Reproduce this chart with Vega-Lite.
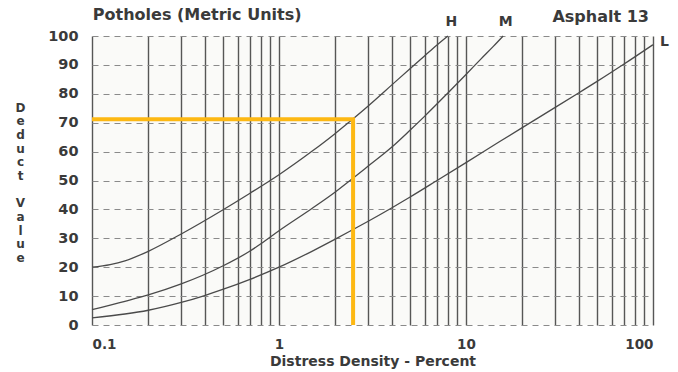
{
  "$schema": "https://vega.github.io/schema/vega-lite/v6.json",
  "width": 561,
  "height": 289,
  "autosize": {"type": "none"},
  "padding": {"left": 92, "top": 36, "right": 25, "bottom": 47},
  "background": "white",
  "config": {
    "font": "DejaVu Sans",
    "view": {"stroke": null, "fill": "#fafaf8"}
  },
  "datasets": {
    "curves": [
      {"series": "H", "x": 0.1, "y": 20},
      {"series": "H", "x": 0.125, "y": 20.9},
      {"series": "H", "x": 0.15, "y": 22.2},
      {"series": "H", "x": 0.2, "y": 25.5},
      {"series": "H", "x": 0.3, "y": 31.5},
      {"series": "H", "x": 0.5, "y": 39.8},
      {"series": "H", "x": 0.7, "y": 45.6},
      {"series": "H", "x": 1, "y": 52},
      {"series": "H", "x": 1.5, "y": 60.1},
      {"series": "H", "x": 2, "y": 66.3},
      {"series": "H", "x": 2.4, "y": 70.5},
      {"series": "H", "x": 3, "y": 75.8},
      {"series": "H", "x": 4, "y": 83},
      {"series": "H", "x": 5, "y": 88.6},
      {"series": "H", "x": 6, "y": 93.1},
      {"series": "H", "x": 7, "y": 96.9},
      {"series": "H", "x": 8, "y": 100},
      {"series": "M", "x": 0.1, "y": 5.3},
      {"series": "M", "x": 0.15, "y": 8.2},
      {"series": "M", "x": 0.2, "y": 10.4},
      {"series": "M", "x": 0.3, "y": 14.2},
      {"series": "M", "x": 0.5, "y": 20.4},
      {"series": "M", "x": 0.7, "y": 25.6},
      {"series": "M", "x": 0.8, "y": 28.1},
      {"series": "M", "x": 1, "y": 32.6},
      {"series": "M", "x": 1.5, "y": 40.3},
      {"series": "M", "x": 2, "y": 46},
      {"series": "M", "x": 2.4, "y": 50},
      {"series": "M", "x": 3, "y": 55},
      {"series": "M", "x": 4, "y": 61.5},
      {"series": "M", "x": 5, "y": 67.3},
      {"series": "M", "x": 6, "y": 72.2},
      {"series": "M", "x": 8, "y": 80.3},
      {"series": "M", "x": 10, "y": 86.7},
      {"series": "M", "x": 12, "y": 92},
      {"series": "M", "x": 14, "y": 96.4},
      {"series": "M", "x": 15.8, "y": 100},
      {"series": "L", "x": 0.1, "y": 2.5},
      {"series": "L", "x": 0.15, "y": 3.8},
      {"series": "L", "x": 0.2, "y": 5.1},
      {"series": "L", "x": 0.3, "y": 7.8},
      {"series": "L", "x": 0.4, "y": 10.2},
      {"series": "L", "x": 0.5, "y": 12.3},
      {"series": "L", "x": 0.7, "y": 15.8},
      {"series": "L", "x": 1, "y": 20},
      {"series": "L", "x": 1.5, "y": 25.5},
      {"series": "L", "x": 2, "y": 29.7},
      {"series": "L", "x": 2.5, "y": 33.1},
      {"series": "L", "x": 3, "y": 35.9},
      {"series": "L", "x": 4, "y": 40.5},
      {"series": "L", "x": 5, "y": 44.2},
      {"series": "L", "x": 7, "y": 50},
      {"series": "L", "x": 10, "y": 56.2},
      {"series": "L", "x": 15, "y": 63.3},
      {"series": "L", "x": 20, "y": 68.3},
      {"series": "L", "x": 30, "y": 75.3},
      {"series": "L", "x": 40, "y": 80.3},
      {"series": "L", "x": 50, "y": 84.2},
      {"series": "L", "x": 70, "y": 90.3},
      {"series": "L", "x": 100, "y": 97}
    ],
    "marker": [
      {"step": 1, "x": 0.1, "y": 71.2},
      {"step": 2, "x": 2.49, "y": 71.2},
      {"step": 3, "x": 2.49, "y": 0}
    ],
    "labels": [
      {"text": "H", "x": 8.35, "y": 104.8, "kind": "curve"},
      {"text": "M", "x": 16.3, "y": 104.8, "kind": "curve"},
      {"text": "L", "x": 115, "y": 97.8, "kind": "curve"},
      {"text": "Asphalt 13", "x": 52.5, "y": 106.6, "kind": "head"},
      {"text": "Potholes (Metric Units)", "x": 0.101, "y": 107.1, "kind": "title"}
    ]
  },
  "encoding": {
    "x": {
      "field": "x",
      "type": "quantitative",
      "scale": {"type": "log", "domain": [0.1, 100], "nice": false},
      "axis": {
        "values": [0.1, 0.2, 0.3, 0.4, 0.5, 0.6, 0.7, 0.8, 0.9, 1, 2, 3, 4, 5, 6, 7, 8, 9, 10, 20, 30, 40, 50, 60, 70, 80, 90, 100],
        "labelExpr": "datum.value == 0.1 ? '0.1' : datum.value == 1 ? '1' : datum.value == 10 ? '10' : datum.value == 100 ? '100' : ''",
        "labelOverlap": false,
        "labelBound": false,
        "labelFontSize": 13.5,
        "labelFontWeight": "bold",
        "labelColor": "#3a3a3a",
        "labelPadding": 19,
        "labelBaseline": "middle",
        "domain": false,
        "ticks": false,
        "grid": true,
        "gridColor": "#444444",
        "gridWidth": 1.4,
        "gridOpacity": 0.9,
        "title": "Distress Density - Percent",
        "titleFontSize": 14,
        "titleFontWeight": "bold",
        "titleColor": "#3a3a3a",
        "titleBaseline": "middle",
        "titleY": 36
      }
    },
    "y": {
      "field": "y",
      "type": "quantitative",
      "scale": {"domain": [0, 100], "nice": false},
      "axis": {
        "values": [0, 10, 20, 30, 40, 50, 60, 70, 80, 90, 100],
        "tickCount": 11,
        "labelOverlap": false,
        "labelFontSize": 14.5,
        "labelFontWeight": "bold",
        "labelColor": "#3a3a3a",
        "labelPadding": 14,
        "domain": false,
        "ticks": false,
        "grid": true,
        "gridColor": "#8a8a8a",
        "gridWidth": 1,
        "gridDash": [6, 5],
        "title": ["D", "e", "d", "u", "c", "t", "\u2800", "V", "a", "l", "u", "e"],
        "titleAngle": 0,
        "titleAlign": "center",
        "titleBaseline": "top",
        "titleX": -72,
        "titleY": 66,
        "titleLineHeight": 13.7,
        "titleFontSize": 12,
        "titleFontWeight": "bold",
        "titleColor": "#3a3a3a"
      }
    }
  },
  "layer": [
    {
      "data": {"name": "curves"},
      "mark": {"type": "line", "color": "#4a4a4a", "strokeWidth": 1.3, "interpolate": "monotone"},
      "encoding": {
        "detail": {"field": "series"}
      }
    },
    {
      "data": {"name": "marker"},
      "mark": {"type": "line", "color": "#FDB813", "strokeWidth": 4, "strokeCap": "butt", "strokeJoin": "miter"},
      "encoding": {
        "order": {"field": "step"}
      }
    },
    {
      "data": {"name": "labels"},
      "transform": [{"filter": "datum.kind == 'curve'"}],
      "mark": {"type": "text", "fontSize": 14, "fontWeight": "bold", "color": "#3a3a3a", "align": "center", "baseline": "middle"},
      "encoding": {
        "text": {"field": "text"}
      }
    },
    {
      "data": {"name": "labels"},
      "transform": [{"filter": "datum.kind == 'head'"}],
      "mark": {"type": "text", "fontSize": 16, "fontWeight": "bold", "color": "#3a3a3a", "align": "center", "baseline": "middle"},
      "encoding": {
        "text": {"field": "text"}
      }
    },
    {
      "data": {"name": "labels"},
      "transform": [{"filter": "datum.kind == 'title'"}],
      "mark": {"type": "text", "fontSize": 16, "fontWeight": "bold", "color": "#3a3a3a", "align": "left", "baseline": "middle"},
      "encoding": {
        "text": {"field": "text"}
      }
    }
  ]
}
